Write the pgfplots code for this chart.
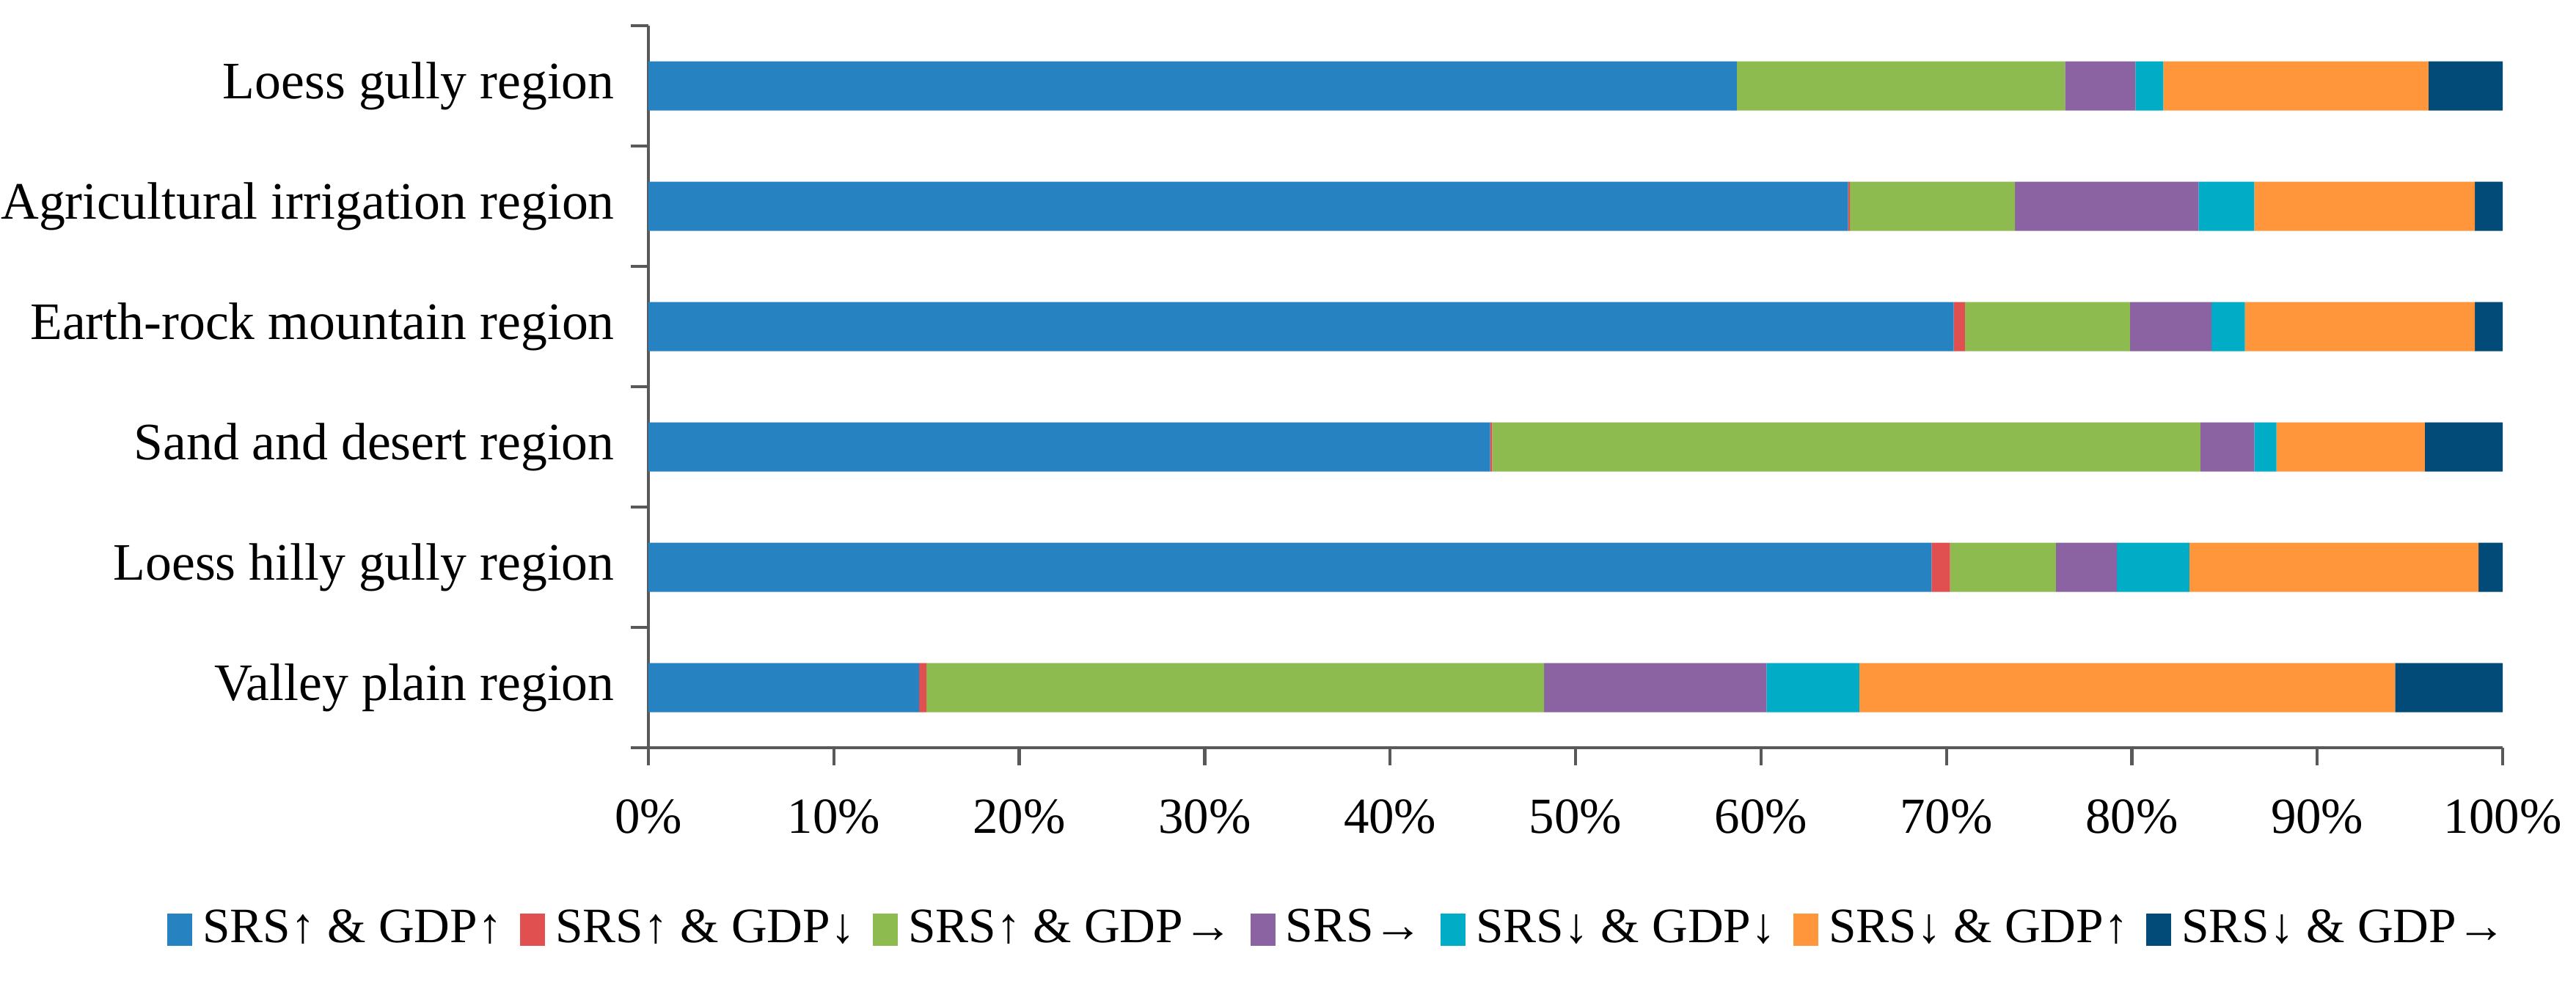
\documentclass[border=0pt]{standalone}
\usepackage{fontspec}
\setmainfont{Liberation Serif}
\usepackage{pgfplots}
\pgfplotsset{compat=1.18}
\usepackage{pgfplotstable}

\definecolor{cBlue}{RGB}{38,130,192}
\definecolor{cRed}{RGB}{224,80,80}
\definecolor{cGreen}{RGB}{142,187,80}
\definecolor{cPurple}{RGB}{139,99,163}
\definecolor{cCyan}{RGB}{0,172,198}
\definecolor{cOrange}{RGB}{255,150,60}
\definecolor{cNavy}{RGB}{2,74,120}
\definecolor{axisgray}{RGB}{89,89,89}

% shares (%) per region, bottom (y=0) to top (y=5)
\pgfplotstableread{
y   a     b    c     d     e    f     g
0   14.6  0.4  33.3  12.0  5.0  28.9  5.8
1   69.2  1.0  5.7   3.3   3.9  15.6  1.3
2   45.4  0.1  38.2  2.9   1.2  8.0   4.2
3   70.4  0.6  8.9   4.4   1.8  12.4  1.5
4   64.7  0.1  8.9   9.9   3.0  11.9  1.5
5   58.7  0.0  17.7  3.8   1.5  14.3  4.0
}\shares

\begin{document}
\fontsize{10.2}{12}\selectfont
\begin{tikzpicture}
\path[use as bounding box] (-4.42cm,-1.605cm) rectangle (13.14cm,5.095cm);
\begin{axis}[
    xbar stacked,
    scale only axis,
    width=12.64cm, height=4.92cm,
    bar width=0.335cm,
    xmin=0, xmax=100,
    ymin=-0.5, ymax=5.5,
    axis x line=bottom, axis y line=left,
    axis line style={-, draw=axisgray, line width=0.6pt},
    tick style={draw=axisgray, line width=0.6pt},
    tick align=outside,
    major tick length=0.12cm,
    xtick={0,10,...,100},
    xticklabel={\pgfmathprintnumber{\tick}\%},
    /pgf/number format/assume math mode=true,
    xticklabel style={yshift=-3pt, font=\fontsize{9.8}{12}\selectfont},
    ytick={-0.5,0.5,...,5.5},
    yticklabels={},
    extra y ticks={0,1,2,3,4,5},
    extra y tick labels={Valley plain region, Loess hilly gully region, Sand and desert region, Earth-rock mountain region, Agricultural irrigation region, Loess gully region},
    extra y tick style={major tick length=0pt, yticklabel style={xshift=-3pt}},
    legend columns=-1,
    legend style={draw=none, at={(0.374,-0.252)}, anchor=center,
        font=\fontsize{9.6}{12}\selectfont,
        /tikz/every even column/.append style={column sep=0.05cm},
        legend cell align=left},
    legend image code/.code={\fill[#1] (0cm,-0.11cm) rectangle (0.17cm,0.11cm);},
]
\addplot[fill=cBlue, draw=none] table[x=a, y=y] {\shares};
\addlegendentry{SRS↑ \& GDP↑}
\addplot[fill=cRed, draw=none] table[x=b, y=y] {\shares};
\addlegendentry{SRS↑ \& GDP↓}
\addplot[fill=cGreen, draw=none] table[x=c, y=y] {\shares};
\addlegendentry{SRS↑ \& GDP→}
\addplot[fill=cPurple, draw=none] table[x=d, y=y] {\shares};
\addlegendentry{SRS→}
\addplot[fill=cCyan, draw=none] table[x=e, y=y] {\shares};
\addlegendentry{SRS↓ \& GDP↓}
\addplot[fill=cOrange, draw=none] table[x=f, y=y] {\shares};
\addlegendentry{SRS↓ \& GDP↑}
\addplot[fill=cNavy, draw=none] table[x=g, y=y] {\shares};
\addlegendentry{SRS↓ \& GDP→}
\end{axis}
\end{tikzpicture}
\end{document}
